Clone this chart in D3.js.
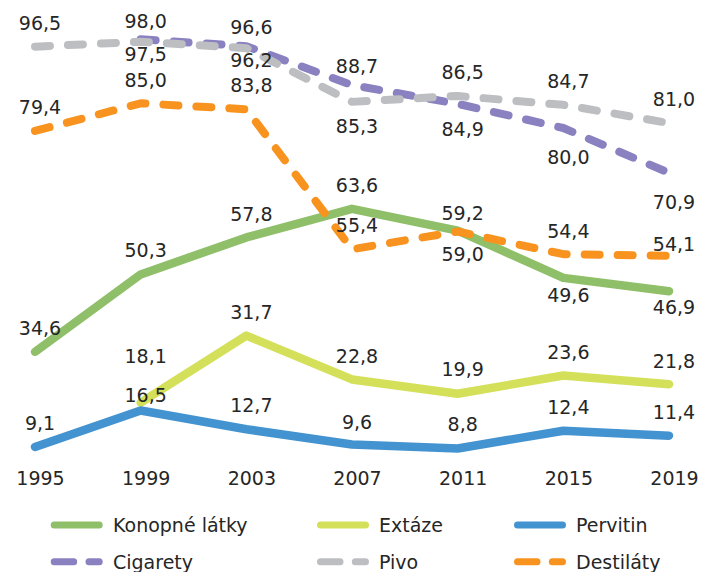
<!DOCTYPE html>
<html>
<head>
<meta charset="utf-8">
<script src="https://cdn.jsdelivr.net/npm/d3@7"></script>
<style>
  body { margin: 0; background: #fff; }
  text { font-family: "DejaVu Sans", sans-serif; fill: #262626; }
</style>
</head>
<body>
<div id="chart"></div>
<script>
// data
var years = [1995, 1999, 2003, 2007, 2011, 2015, 2019];
var konopne = [34.6, 50.3, 57.8, 63.6, 59.2, 49.6, 46.9];
var extaze = [null, 18.1, 31.7, 22.8, 19.9, 23.6, 21.8];
var pervitin = [9.1, 16.5, 12.7, 9.6, 8.8, 12.4, 11.4];
var cigarety = [null, 98.0, 96.6, 88.7, 84.9, 80.0, 70.9];
var pivo = [96.5, 97.5, 96.2, 85.3, 86.5, 84.7, 81.0];
var destilaty = [79.4, 85.0, 83.8, 55.4, 59.0, 54.4, 54.1];

// label offsets (px, text centre relative to point)
var dyKonopne = [-24, -24, -23, -24, -18, 17, 16];
var dyExtaze = [0, -47, -24, -23, -25, -23, -23];
var dyPervitin = [-24, -15, -24, -23, -24, -24, -24];
var dyCigarety = [0, -18, -19, -19, 25, 29, 29];
var dyPivo = [-24, 12, 12, 24, -24, -24, -24];
var dyDestilaty = [-24, -23, -24, -24, 22, -23, -12];

var w = 713, h = 572;

var svg = d3.select("#chart").append("svg")
    .attr("width", w)
    .attr("height", h);

var x = d3.scaleLinear().domain([1995, 2019]).range([35, 669]);
// primary axis for Konopné, Cigarety, Pivo, Destiláty
var yMain = d3.scaleLinear().domain([0, 100]).range([522.4, 29.4]);
// secondary axis for Extáze, Pervitin
var ySec = d3.scaleLinear().domain([-6.2, 93.8]).range([522.4, 29.4]);

var series = [
  {name: "Konopné látky", values: konopne, dy: dyKonopne, color: "#8fbf68", dash: null, y: yMain},
  {name: "Extáze", values: extaze, dy: dyExtaze, color: "#d4e05a", dash: null, y: ySec},
  {name: "Pervitin", values: pervitin, dy: dyPervitin, color: "#4393d1", dash: null, y: ySec},
  {name: "Cigarety", values: cigarety, dy: dyCigarety, color: "#8981c0", dash: "15,18", y: yMain},
  {name: "Pivo", values: pivo, dy: dyPivo, color: "#bdbec1", dash: "15,18", y: yMain},
  {name: "Destiláty", values: destilaty, dy: dyDestilaty, color: "#f7931e", dash: "15,18", y: yMain}
];

var locale = d3.formatLocale({decimal: ",", thousands: " ", grouping: [3], currency: ["", ""]});
var fmt = locale.format(".1f");

// x axis labels only
var xAxis = d3.axisBottom(x).tickValues(years).tickFormat(d3.format("d")).tickSize(0);
var gx = svg.append("g")
    .attr("transform", "translate(5,478)")
    .call(xAxis);
gx.select(".domain").remove();
gx.selectAll("text")
    .attr("dy", null)
    .attr("y", 7)
    .style("font-size", "19px")
    .style("font-family", "DejaVu Sans")
    .attr("fill", "#262626");

// lines
series.forEach(function(s) {
  var line = d3.line()
      .defined(function(d) { return d != null; })
      .x(function(d, i) { return x(years[i]); })
      .y(function(d) { return s.y(d); });

  svg.append("path")
      .datum(s.values)
      .attr("d", line)
      .attr("fill", "none")
      .attr("stroke", s.color)
      .attr("stroke-width", s.dash ? 8 : 8.5)
      .attr("stroke-linecap", "round")
      .attr("stroke-linejoin", "round")
      .attr("stroke-dasharray", s.dash);
});

// data labels
series.forEach(function(s) {
  var pts = s.values.map(function(v, i) { return {v: v, i: i}; })
      .filter(function(p) { return p.v != null; });
  svg.append("g").selectAll("text")
      .data(pts)
      .enter()
      .append("text")
      .attr("x", function(p) { return x(years[p.i]) + 5; })
      .attr("y", function(p) { return s.y(p.v) + s.dy[p.i] + 7; })
      .attr("text-anchor", "middle")
      .attr("font-size", "19px")
      .text(function(p) { return fmt(p.v); });
});

// legend
var legCols = [[50.7, 113], [317, 379], [514, 576]];
var legRows = [525, 561.7];
series.forEach(function(s, i) {
  var col = legCols[i % 3], row = legRows[Math.floor(i / 3)];
  var g = svg.append("g");
  g.append("line")
      .attr("x1", col[0] + 3.5).attr("x2", col[0] + 48.5)
      .attr("y1", row).attr("y2", row)
      .attr("stroke", s.color)
      .attr("stroke-width", 7)
      .attr("stroke-linecap", "round")
      .attr("stroke-dasharray", s.dash ? "19.5,15.3" : null);
  g.append("text")
      .attr("x", col[1])
      .attr("y", row + 7)
      .attr("font-size", "19px")
      .text(s.name);
});
</script>
</body>
</html>
